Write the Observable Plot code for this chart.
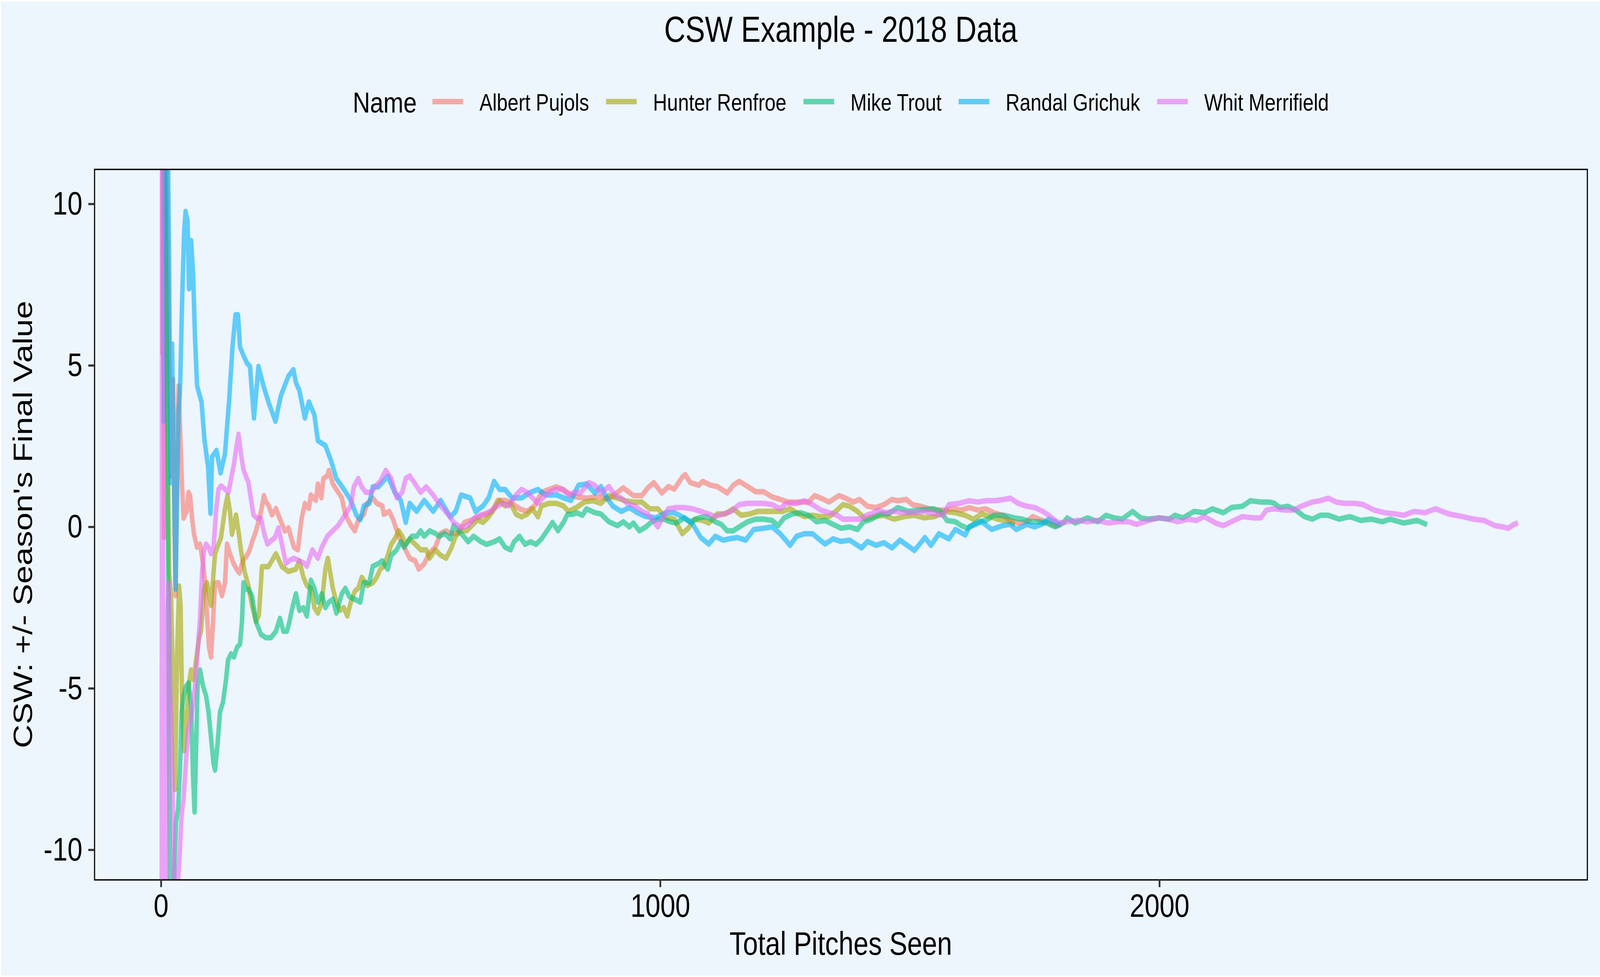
<!DOCTYPE html>
<html>
<head>
<meta charset="utf-8">
<script src="https://cdn.jsdelivr.net/npm/d3@7"></script>
<script src="https://cdn.jsdelivr.net/npm/@observablehq/plot@0.6"></script>
<style>
html, body { margin: 0; padding: 0; background: #ffffff; overflow: hidden; }
#page { position: absolute; left: 0; top: 0; width: 5000px; height: 2500px; background: #ffffff; font-family: "Liberation Sans", Arial, sans-serif; transform-origin: 0 0; }
#bg { position: absolute; left: 4px; top: 4px; right: 0px; bottom: 4px; background: #EDF5FD; }
#header { position: absolute; left: 0; top: 0; }
#chart { position: absolute; left: 0; top: 360px; }
</style>
</head>
<body>
<div id="page">
  <div id="bg"></div>
  <svg id="header" width="5000" height="360"></svg>
  <div id="chart"></div>
</div>
<script>
// ---------- text ----------
const titleText = "CSW Example - 2018 Data";
const legendTitle = "Name";
const xLabel = "Total Pitches Seen";
const yLabel = "CSW: +/- Season's Final Value";
const xTicks = [0, 1000, 2000];
const yTicks = [-10, -5, 0, 5, 10];

// ---------- categories & colours ----------
const names = ["Albert Pujols", "Hunter Renfroe", "Mike Trout", "Randal Grichuk", "Whit Merrifield"];
const colors = ["#F8766D", "#A3A500", "#00BF7D", "#00B0F6", "#E76BF3"];

// ---------- series values: [pitch number, CSW minus season final] ----------
const pujols = [[1,72],[2,22],[3,5.3],[4,22],[5,9],[6,-0.4],[8,5],[11,12],[14,8],[17,4.5],[20,1.5],[24,4.5],[27,0],[29,-2.2],[32,2.5],[35,4.3],[38,3.0],[42,1.2],[45,0.2],[51,0.4],[55,1.0],[58,0.9],[62,0.2],[66,-0.3],[72,-0.7],[78,-0.6],[84,-1.2],[88,-1.8],[92,-2.8],[96,-3.8],[100,-4.1],[104,-3.0],[108,-1.8],[115,-1.8],[122,-2.2],[128,-1.8],[132,-0.6],[138,-0.9],[145,-1.2],[152,-1.4],[157,-1.5],[164,-1.1],[170,-1.0],[177,-0.8],[183,-0.5],[190,-0.2],[200,0.4],[206,0.9],[210,0.7],[215,0.6],[222,0.3],[230,0.5],[240,0.1],[248,-0.2],[255,-0.1],[266,-0.7],[274,-0.78],[281,0.15],[288,0.66],[296,0.5],[300,0.92],[310,0.75],[314,1.26],[321,0.83],[325,1.43],[333,1.51],[336,1.68],[344,1.26],[351,1.09],[362,0.83],[369,0.32],[380,-0.02],[388,-0.19],[395,0.15],[406,0.32],[413,0.66],[424,0.83],[432,0.66],[443,0.58],[446,0.32],[457,0.41],[465,0.15],[476,-0.36],[487,-0.7],[498,-1.04],[509,-1.12],[516,-1.38],[527,-1.21],[538,-0.87],[549,-0.7],[560,-0.27],[571,-0.19],[579,-0.27],[593,-0.27],[608,0.07],[623,0.15],[637,0.24],[652,0.32],[663,0.41],[674,0.75],[689,0.75],[703,0.66],[718,0.49],[733,0.41],[748,0.58],[762,1.0],[777,1.09],[792,1.17],[806,1.09],[821,0.92],[832,0.86],[852,0.82],[873,0.86],[897,0.8],[926,1.14],[946,0.9],[963,0.9],[975,1.14],[987,1.3],[1003,0.98],[1016,1.18],[1028,1.1],[1044,1.47],[1050,1.55],[1060,1.3],[1077,1.22],[1085,1.34],[1101,1.22],[1114,1.18],[1126,1.06],[1134,0.98],[1146,1.22],[1158,1.34],[1175,1.18],[1191,1.02],[1207,1.02],[1224,0.86],[1240,0.78],[1256,0.7],[1273,0.7],[1297,0.7],[1309,0.9],[1322,0.82],[1338,0.7],[1358,0.9],[1371,0.82],[1387,0.7],[1399,0.78],[1415,0.57],[1432,0.53],[1448,0.62],[1464,0.78],[1476,0.74],[1493,0.78],[1505,0.62],[1521,0.57],[1538,0.49],[1554,0.45],[1570,0.45],[1587,0.49],[1603,0.45],[1619,0.53],[1636,0.45],[1652,0.49],[1668,0.37],[1685,0.29],[1701,0.13],[1717,0.05],[1734,0.09],[1746,0.25],[1758,0.17],[1774,0.09],[1791,-0.03],[1803,0]];

const renfroe = [[1,72],[2,39],[3,22],[5,14],[8,9],[11,7.3],[13,3],[16,-1.5],[20,-2.2],[24,-5],[28,-8.2],[32,-4],[36,-1.9],[39,-2.5],[42,-5.5],[46,-7.0],[50,-6.3],[55,-5.0],[60,-4.5],[65,-4.8],[70,-4.2],[76,-3.5],[80,-3.3],[86,-2.0],[92,-1.8],[100,-2.5],[108,-0.9],[115,-0.6],[120,-0.4],[128,0.5],[133,0.9],[138,0.4],[142,-0.3],[150,0.3],[155,-0.2],[160,-0.8],[168,-1.5],[175,-1.9],[182,-2.5],[190,-3.0],[196,-2.8],[202,-1.3],[215,-1.3],[230,-0.9],[242,-1.3],[255,-1.45],[270,-1.38],[277,-1.12],[285,-1.63],[292,-1.89],[300,-1.97],[307,-2.57],[314,-2.74],[322,-2.4],[329,-1.38],[334,-1.04],[344,-1.97],[351,-2.4],[358,-2.66],[366,-2.57],[373,-2.83],[380,-2.4],[388,-2.06],[395,-1.97],[402,-1.63],[413,-1.89],[424,-1.8],[432,-1.63],[439,-1.38],[446,-1.29],[454,-0.95],[461,-0.61],[468,-0.44],[476,-0.19],[483,-0.36],[490,-0.61],[498,-0.44],[509,-0.61],[520,-0.78],[531,-0.78],[538,-1.04],[549,-0.78],[560,-0.95],[571,-1.04],[582,-0.7],[590,-0.36],[600,-0.19],[612,-0.19],[623,-0.02],[634,0.15],[645,0.07],[656,0.24],[667,0.49],[678,0.75],[689,0.58],[700,0.66],[711,0.32],[722,0.24],[733,0.32],[744,0.49],[755,0.24],[762,0.58],[777,0.66],[792,0.66],[806,0.58],[816,0.41],[832,0.53],[848,0.7],[865,0.74],[881,0.66],[897,0.9],[914,0.82],[930,0.74],[946,0.7],[963,0.7],[979,0.49],[995,0.49],[1012,0.21],[1028,0.17],[1044,-0.28],[1056,-0.11],[1069,0.17],[1085,0.13],[1097,0.05],[1114,0.33],[1130,0.33],[1146,0.49],[1162,0.29],[1179,0.33],[1195,0.41],[1211,0.41],[1228,0.41],[1244,0.41],[1260,0.49],[1277,0.33],[1289,0.25],[1305,0.29],[1322,0.25],[1338,0.25],[1354,0.45],[1366,0.62],[1379,0.57],[1395,0.41],[1411,0.17],[1428,0.25],[1448,0.29],[1468,0.17],[1489,0.25],[1509,0.29],[1529,0.21],[1550,0.25],[1570,0.41],[1591,0.37],[1611,0.29],[1627,0.17],[1644,0.33],[1660,0.25],[1676,0.17],[1693,0.13],[1710,0]];

const trout = [[1,72],[2,39],[4,22],[6,14],[9,10],[12,4],[15,-4],[18,-12],[21,-14],[24,-12],[27,-10.5],[30,-9.2],[34,-8.8],[38,-7.5],[41,-5.8],[45,-5.3],[50,-5.0],[55,-4.9],[60,-5.6],[64,-7.8],[67,-8.9],[70,-7.0],[73,-5.0],[78,-4.5],[84,-5.0],[90,-5.3],[95,-5.8],[100,-6.6],[105,-7.4],[108,-7.6],[113,-6.8],[118,-5.8],[124,-5.5],[130,-4.8],[134,-4.2],[140,-4.0],[146,-4.1],[152,-3.8],[158,-3.7],[162,-3.0],[165,-1.8],[170,-2.0],[175,-2.0],[182,-2.2],[190,-3.0],[200,-3.4],[210,-3.5],[220,-3.5],[230,-3.3],[238,-2.9],[245,-3.3],[252,-3.3],[256,-3.08],[263,-2.57],[270,-2.14],[277,-2.66],[285,-2.57],[292,-2.83],[300,-1.72],[307,-1.97],[314,-2.4],[322,-2.14],[329,-2.57],[336,-2.4],[344,-2.31],[351,-2.74],[362,-2.14],[369,-1.97],[377,-2.23],[388,-2.31],[399,-2.4],[406,-1.8],[417,-1.8],[424,-1.29],[435,-1.21],[443,-1.12],[454,-1.38],[461,-0.95],[472,-0.78],[480,-0.53],[487,-0.7],[494,-0.53],[502,-0.36],[512,-0.36],[520,-0.19],[527,-0.36],[538,-0.19],[549,-0.27],[557,-0.36],[568,-0.27],[579,-0.44],[586,-0.02],[601,-0.27],[615,-0.53],[626,-0.36],[641,-0.53],[652,-0.61],[667,-0.53],[678,-0.44],[689,-0.7],[700,-0.78],[707,-0.53],[718,-0.36],[729,-0.61],[740,-0.53],[751,-0.61],[762,-0.44],[777,-0.1],[784,0.07],[795,-0.19],[806,0.07],[814,0.32],[825,0.32],[832,0.37],[844,0.29],[852,0.49],[869,0.37],[881,0.33],[897,0.09],[914,-0.03],[926,0.09],[938,-0.07],[946,0.05],[958,-0.19],[971,-0.07],[983,0.09],[995,0.17],[1007,0.17],[1020,0.09],[1032,0.05],[1048,0.21],[1060,0.09],[1077,0.21],[1093,0.25],[1110,0.09],[1122,0.01],[1134,-0.19],[1146,-0.19],[1158,-0.07],[1175,0.09],[1191,0.17],[1207,0.17],[1224,0.13],[1236,-0.03],[1248,0.21],[1264,0.33],[1281,0.37],[1297,0.29],[1313,0.09],[1330,0.13],[1346,0.01],[1362,-0.11],[1379,-0.07],[1395,-0.15],[1407,0.09],[1423,0.17],[1440,0.33],[1456,0.33],[1476,0.53],[1497,0.41],[1517,0.45],[1546,0.49],[1562,0.41],[1574,0.13],[1591,0.09],[1603,-0.03],[1615,-0.11],[1636,0.09],[1652,0.13],[1668,0.29],[1689,0.29],[1709,0.21],[1725,0.17],[1742,0.09],[1758,0.09],[1774,0.05],[1791,-0.07],[1807,0.05],[1815,0.21],[1831,0.05],[1856,0.21],[1876,0.09],[1893,0.29],[1909,0.21],[1925,0.17],[1946,0.41],[1962,0.21],[1978,0.17],[1999,0.21],[2019,0.17],[2031,0.29],[2047,0.21],[2069,0.41],[2090,0.37],[2106,0.49],[2128,0.37],[2144,0.53],[2166,0.57],[2182,0.74],[2203,0.7],[2220,0.7],[2230,0.66],[2241,0.53],[2257,0.57],[2273,0.45],[2290,0.25],[2306,0.17],[2322,0.29],[2338,0.29],[2360,0.17],[2381,0.25],[2403,0.13],[2424,0.17],[2446,0.09],[2462,0.17],[2489,0.05],[2516,0.13],[2536,0]];

const grichuk = [[1,72],[2,22],[3,39],[4,22],[5,3.2],[7,14],[10,16],[13,13],[16,8],[19,1.3],[22,5.6],[26,1.0],[29,-2.0],[32,0.8],[35,3.5],[38,4.2],[42,6.9],[46,9.0],[49,9.7],[53,9.4],[56,7.3],[60,8.8],[64,7.8],[68,5.75],[72,4.3],[81,3.8],[87,2.6],[94,1.8],[99,0.35],[102,2.1],[111,2.3],[119,1.6],[128,2.2],[136,3.8],[143,5.5],[149,6.5],[154,6.5],[158,5.5],[166,5.2],[172,5.0],[178,4.9],[186,3.3],[195,4.9],[205,4.3],[215,3.8],[229,3.2],[240,4.0],[255,4.6],[265,4.8],[270,4.4],[277,4.15],[288,3.3],[296,3.8],[307,3.4],[314,2.6],[329,2.45],[340,2.0],[351,1.43],[366,1.1],[380,0.75],[391,0.3],[399,0.15],[406,0.58],[417,0.66],[424,1.17],[435,1.17],[454,1.5],[468,1.0],[480,0.75],[490,0.07],[498,0.66],[512,0.41],[527,0.75],[545,0.41],[560,0.75],[579,0.24],[590,0.41],[601,0.92],[619,0.83],[630,0.41],[645,0.58],[656,0.83],[667,1.34],[678,1.09],[689,1.09],[703,0.83],[722,0.83],[740,1.0],[755,1.09],[770,0.92],[792,0.92],[806,0.83],[821,0.75],[836,1.22],[852,1.26],[869,0.98],[881,1.18],[893,0.82],[905,0.57],[922,0.41],[938,0.53],[954,0.37],[971,0.25],[991,0.21],[1012,0.37],[1028,0.37],[1048,0.21],[1065,0.01],[1081,-0.4],[1097,-0.6],[1110,-0.36],[1126,-0.48],[1138,-0.44],[1154,-0.4],[1171,-0.48],[1187,-0.15],[1207,-0.11],[1224,-0.07],[1240,-0.28],[1260,-0.64],[1273,-0.36],[1289,-0.28],[1305,-0.28],[1317,-0.44],[1330,-0.6],[1346,-0.44],[1362,-0.52],[1379,-0.48],[1403,-0.72],[1415,-0.52],[1432,-0.64],[1448,-0.56],[1464,-0.72],[1480,-0.48],[1509,-0.8],[1530,-0.4],[1542,-0.64],[1558,-0.28],[1578,-0.44],[1591,-0.15],[1611,-0.32],[1619,-0.07],[1644,0.09],[1664,-0.15],[1685,-0.03],[1701,0.01],[1713,-0.15],[1734,0.01],[1750,-0.07],[1766,0.03],[1778,0.17],[1791,0.09],[1800,0]];

const merrifield = [[1,-28],[2,22],[3,5],[4,-3],[5,-8],[6,-13],[8,-16],[10,-13],[12,-3],[15,-1.8],[18,-5],[21,-6.6],[24,-9],[27,-11.5],[30,-12],[33,-11.3],[37,-10.3],[41,-9.0],[45,-8.5],[50,-7.3],[55,-6.3],[60,-6.0],[64,-5.5],[68,-5.0],[73,-4.0],[78,-2.9],[82,-1.5],[86,-0.8],[90,-0.6],[95,-0.7],[100,-0.9],[105,-0.7],[110,0.4],[115,1.1],[120,1.2],[128,1.1],[135,1.0],[140,1.4],[145,1.8],[150,2.3],[155,2.8],[160,2.2],[165,1.7],[170,1.5],[175,1.3],[180,0.8],[185,0.3],[192,0.2],[200,0.2],[207,-0.3],[213,-0.6],[220,-0.5],[228,-0.4],[235,-0.1],[242,-0.6],[250,-1.2],[258,-1.1],[266,-1.04],[277,-1.12],[288,-1.21],[292,-1.29],[303,-0.78],[314,-1.04],[322,-0.7],[333,-0.36],[344,-0.19],[355,-0.02],[366,0.24],[373,0.41],[380,0.58],[386,1.17],[395,1.43],[402,1.17],[410,1.0],[421,1.0],[428,1.17],[439,1.34],[450,1.68],[461,1.43],[472,0.83],[483,1.0],[490,1.43],[498,1.51],[509,1.26],[520,1.0],[531,1.17],[545,0.92],[560,0.58],[575,0.32],[586,0.07],[601,-0.1],[615,-0.02],[630,0.24],[645,0.32],[659,0.41],[674,0.58],[685,0.66],[696,0.58],[711,0.92],[722,1.09],[733,1.0],[744,0.83],[755,0.66],[770,0.92],[788,1.09],[803,1.09],[817,0.92],[828,1.0],[840,0.98],[857,1.3],[869,1.22],[881,0.98],[897,1.18],[910,0.9],[922,0.82],[934,0.66],[950,0.57],[963,0.41],[975,0.33],[987,0.09],[995,-0.07],[1003,0.17],[1016,0.49],[1032,0.53],[1048,0.53],[1065,0.49],[1081,0.41],[1097,0.33],[1110,0.25],[1126,0.33],[1142,0.41],[1158,0.62],[1175,0.66],[1191,0.66],[1207,0.66],[1224,0.62],[1240,0.49],[1252,0.66],[1273,0.66],[1289,0.74],[1305,0.62],[1322,0.45],[1338,0.37],[1354,0.29],[1366,0.17],[1383,0.17],[1399,0.17],[1415,0.3],[1423,0.33],[1436,0.45],[1452,0.37],[1468,0.41],[1489,0.37],[1509,0.37],[1529,0.41],[1550,0.33],[1566,0.29],[1578,0.62],[1599,0.66],[1619,0.74],[1636,0.7],[1652,0.74],[1668,0.74],[1689,0.78],[1701,0.82],[1717,0.66],[1734,0.57],[1750,0.53],[1766,0.41],[1778,0.29],[1791,0.13],[1799,0.05],[1815,0.09],[1836,0.13],[1856,0.09],[1876,0.13],[1897,0.05],[1917,0.09],[1938,0.09],[1954,0.01],[1978,0.13],[1999,0.21],[2019,0.17],[2036,0.09],[2058,0.17],[2074,0.13],[2090,0.25],[2112,0.05],[2128,-0.03],[2144,0.09],[2166,0.25],[2187,0.21],[2203,0.21],[2214,0.45],[2230,0.49],[2252,0.45],[2268,0.45],[2284,0.57],[2306,0.7],[2322,0.74],[2338,0.82],[2354,0.7],[2370,0.66],[2392,0.66],[2408,0.62],[2430,0.45],[2451,0.37],[2473,0.33],[2489,0.29],[2510,0.41],[2532,0.37],[2553,0.49],[2580,0.33],[2607,0.25],[2629,0.17],[2650,0.13],[2672,-0.03],[2688,-0.07],[2699,-0.11],[2710,0.01],[2718,0.05]];

const seriesList = [pujols, renfroe, trout, grichuk, merrifield];

// ---------- build tidy table ----------
const rows = [];
seriesList.forEach((s, i) => s.forEach(([p, v]) => rows.push({name: names[i], pitch: p, value: v})));

const FONT = '"Liberation Sans", Arial, sans-serif';
const PANEL_L = 295, PANEL_R = 4960, PANEL_T = 433, PANEL_B = 2251, SVG_TOP = 360;

// ---------- main plot ----------
const lineMarks = names.map(n => Plot.line(rows.filter(r => r.name === n), {
  x: "pitch", y: "value", stroke: "name",
  strokeOpacity: 0.6, strokeWidth: 14, clip: true,
  strokeLinejoin: "round", strokeLinecap: "butt"
}));

const svg = Plot.plot({
  width: 5000,
  height: 2140,
  marginTop: PANEL_T - SVG_TOP,
  marginBottom: 2500 - PANEL_B,
  marginLeft: PANEL_L,
  marginRight: 5000 - PANEL_R,
  style: {background: "transparent", fontFamily: FONT, maxWidth: "none", overflow: "visible"},
  x: {domain: [-133.3, 2857]},
  y: {domain: [-11, 11]},
  color: {domain: names, range: colors},
  marks: [
    ...lineMarks,
    Plot.frame({stroke: "black", strokeWidth: 3.5}),
    Plot.axisX({ticks: xTicks, tickFormat: d => String(d), tickSize: 19, tickPadding: 16,
      stroke: "#333333", strokeWidth: 5.5, fill: "black", fontSize: 84, label: null}),
    Plot.axisY({ticks: yTicks, tickFormat: d => String(d), tickSize: 19, tickPadding: 19,
      stroke: "#333333", strokeWidth: 5.5, fill: "black", fontSize: 84, dy: 6, label: null})
  ]
});

const s = d3.select(svg);
s.append("text")
  .attr("x", (PANEL_L + PANEL_R) / 2).attr("y", 2443 - SVG_TOP)
  .attr("text-anchor", "middle").attr("font-size", 84).attr("font-family", FONT)
  .attr("fill", "black").text(xLabel);
s.append("text")
  .attr("transform", `translate(100, ${(PANEL_B + PANEL_T) / 2 - SVG_TOP}) rotate(-90)`)
  .attr("text-anchor", "middle").attr("font-size", 84).attr("font-family", FONT)
  .attr("fill", "black").text(yLabel);

document.getElementById("chart").appendChild(svg);

// ---------- title and legend (above the plot) ----------
const h = d3.select("#header");
h.append("text").attr("x", (PANEL_L + PANEL_R) / 2).attr("y", 107)
  .attr("text-anchor", "middle").attr("font-size", 92).attr("font-family", FONT)
  .attr("fill", "black").text(titleText);

const lg = h.append("g");
let cx = 0;
const nameT = lg.append("text").attr("x", cx).attr("y", 288)
  .attr("font-size", 75).attr("font-family", FONT).attr("fill", "black").text(legendTitle);
cx += nameT.node().getComputedTextLength() + 49;
names.forEach((n, i) => {
  lg.append("line").attr("x1", cx).attr("x2", cx + 96).attr("y1", 260).attr("y2", 260)
    .attr("stroke", colors[i]).attr("stroke-opacity", 0.6).attr("stroke-width", 14);
  cx += 96 + 51;
  const t = lg.append("text").attr("x", cx).attr("y", 283)
    .attr("font-size", 61).attr("font-family", FONT).attr("fill", "black").text(n);
  cx += t.node().getComputedTextLength() + (i < names.length - 1 ? 53 : 0);
});
lg.attr("transform", `translate(${(PANEL_L + PANEL_R) / 2 - cx / 2}, 0)`);

// ---------- fit the 5000x2500 layout into the actual viewport ----------
function fit() {
  const vw = document.documentElement.clientWidth || window.innerWidth || 5000;
  const vh = document.documentElement.clientHeight || window.innerHeight || 2500;
  const sx = vw / 5000, sy = vh / 2500;
  document.getElementById("page").style.transform =
    (Math.abs(sx - 1) < 1e-3 && Math.abs(sy - 1) < 1e-3) ? "none" : `scale(${sx}, ${sy})`;
}
fit();
window.addEventListener("resize", fit);
</script>
</body>
</html>
